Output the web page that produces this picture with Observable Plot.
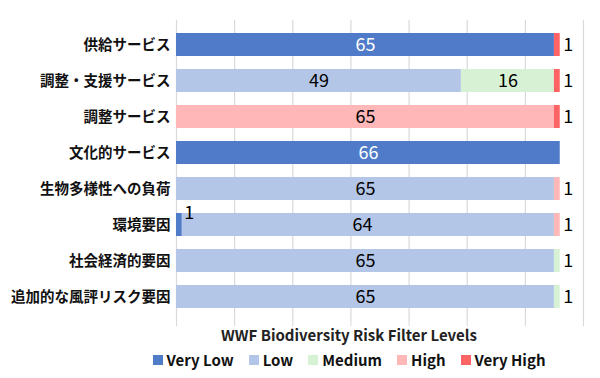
<!DOCTYPE html>
<html><head><meta charset="utf-8">
<script src="https://cdn.jsdelivr.net/npm/d3@7"></script>
<script src="https://cdn.jsdelivr.net/npm/@observablehq/plot@0.6"></script>
<style>
body{margin:0;overflow:hidden;background:#fff;font-family:"Noto Sans CJK JP","Noto Sans",sans-serif}
#wrap{position:relative;width:600px;height:378px}
#title{position:absolute;left:100px;width:498px;top:325px;text-align:center;font-weight:bold;font-size:15px;color:#222;line-height:20px}
#legend{position:absolute;left:100px;width:498px;top:349px;display:flex;justify-content:center;gap:15px;font-weight:bold;font-size:15px;color:#111;line-height:22px}
.item{display:flex;align-items:center;gap:4px}
.sw{width:10px;height:10px;display:inline-block}
</style></head><body><div id="wrap"></div>
<script>
const categories = ["供給サービス","調整・支援サービス","調整サービス","文化的サービス","生物多様性への負荷","環境要因","社会経済的要因","追加的な風評リスク要因"];
const levels = ["Very Low","Low","Medium","High","Very High"];
const colors = ["#4f7bc8","#b4c6e7","#d6f1d3","#ffb7b7","#ff6464"];
const veryLow  = [65, 0, 0, 66, 0, 1, 0, 0];
const low      = [0, 49, 0, 0, 65, 64, 65, 65];
const medium   = [0, 16, 0, 0, 0, 0, 1, 1];
const high     = [0, 0, 65, 0, 1, 1, 0, 0];
const veryHigh = [1, 1, 1, 0, 0, 0, 0, 0];
const xTicks = [0,10,20,30,40,50,60,70];

const series = [veryLow, low, medium, high, veryHigh];
const rows = [];
categories.forEach((c,i)=>{
  levels.forEach((l,j)=>{
    const v = series[j][i];
    if (v > 0) rows.push({cat:c, level:l, value:v});
  });
});
const totals = categories.map((c,i)=>({cat:c, total: d3.sum(series, s=>s[i])}));
const endLabels = rows.filter(r => r.value < 5 && r.level !== "Very Low").map(r => ({cat:r.cat, x: totals.find(t=>t.cat===r.cat).total, text: String(r.value)}));
const startLabels = rows.filter(r => r.value < 5 && r.level === "Very Low").map(r => ({cat:r.cat, x: r.value, text:String(r.value)}));

const chart = Plot.plot({
  width: 600, height: 327,
  marginLeft: 176, marginRight: 17, marginTop: 20, marginBottom: 6,
  style: {fontFamily: '"Noto Sans CJK JP","Noto Sans",sans-serif', background: "#fff"},
  x: {domain: [0,70], axis: null},
  y: {domain: categories, padding: 0.36, label: null},
  color: {domain: levels, range: colors},
  marks: [
    Plot.gridX(xTicks, {stroke: "#d9d9d9", strokeOpacity: 1, strokeWidth: 1.2}),
    Plot.axisX({ticks: xTicks, tickFormat: () => "", tickSize: 5, stroke: "#d9d9d9", strokeOpacity:1, label: null}),
    Plot.barX(rows, Plot.stackX({x: "value", y: "cat", fill: "level", order: levels})),
    Plot.textX(rows.filter(r=>r.value>=5), Plot.stackX({x: "value", y: "cat", z: "level", order: levels, text: d=>String(d.value), fill: d=>d.level==="Very Low" ? "white" : "black", fontSize: 18})),
    Plot.text(endLabels, {x: "x", y: "cat", text: "text", dx: 3, textAnchor: "start", fontSize: 18, fill: "black"}),
    Plot.text(startLabels, {x: "x", y: "cat", text: "text", dx: 2, dy: -12, textAnchor: "start", fontSize: 18, fill: "black"}),
    Plot.axisY({tickSize: 0, tickPadding: 6, fontSize: 14.5, fontWeight: "bold", fill: "#111", label: null})
  ]
});
const wrap = document.getElementById("wrap");
wrap.appendChild(chart);
const t = document.createElement("div"); t.id = "title"; t.textContent = "WWF Biodiversity Risk Filter Levels"; wrap.appendChild(t);
const lg = document.createElement("div"); lg.id = "legend";
levels.forEach((l,i)=>{
  const it = document.createElement("span"); it.className = "item";
  const sw = document.createElement("span"); sw.className = "sw"; sw.style.background = colors[i];
  const tx = document.createElement("span"); tx.textContent = l;
  it.appendChild(sw); it.appendChild(tx); lg.appendChild(it);
});
wrap.appendChild(lg);
</script></body></html>
